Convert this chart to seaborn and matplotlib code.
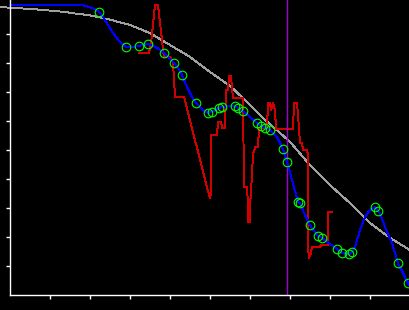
import matplotlib
matplotlib.use("Agg")
import matplotlib.pyplot as plt
import seaborn as sns

# ---- data ----
grey_x = [-2.5, 0.75, 5.5, 8.25, 11.25, 13.75, 17, 19.25, 21.75, 24.25, 30, 35, 40, 45,
          50, 55, 59.25, 63.25, 67.5, 70, 75, 80, 85, 90, 95, 100]
grey_y = [99.3, 99.0, 98.6, 98.3, 97.9, 97.6, 96.9, 96.6, 95.9, 95.2, 93.1, 90.3, 86.2, 82.1,
          76.9, 72.1, 66.6, 61.0, 55.9, 52.8, 44.8, 37.9, 31.7, 24.8, 19.7, 15.5]

red_x = [32.25, 34.75, 35.25, 36.25, 37, 38, 38.25, 38.5, 40, 40.75, 41.25, 43.5, 49.75, 50,
         50.25, 50.25, 51.75, 52, 52.75, 53, 53.75, 54, 54.5, 54.75, 55.25, 55.5, 55.75, 58.25,
         58.5, 59.25, 59.5, 59.5, 60, 60, 60.25, 60.75, 61.25, 62, 62.25, 64.25, 64.5, 65,
         65.25, 65.75, 66.25, 66.5, 70.75, 71, 71.75, 72, 72.5, 73, 73.25, 74.25, 74.5, 74.5,
         74.75, 75.25, 75.5, 77.5, 77.75, 79.5, 79.5, 80.5]
red_y = [83.4, 83.4, 86.6, 100.0, 100.0, 87.9, 84.5, 82.1, 82.1, 80.3, 68.3, 68.3, 34.5, 33.4,
         35.2, 55.2, 55.2, 59.7, 59.7, 57.6, 57.6, 70.7, 70.7, 75.5, 75.5, 71.4, 67.9, 67.9,
         37.2, 37.2, 31.0, 25.2, 25.2, 31.0, 35.5, 48.3, 51.0, 51.0, 57.6, 57.6, 66.2, 66.2,
         63.8, 66.2, 63.8, 57.2, 57.2, 66.2, 66.2, 62.1, 52.4, 52.4, 50.0, 50.0, 48.3, 16.6,
         12.8, 14.5, 16.6, 16.6, 17.2, 17.2, 28.6, 28.6]

blue_x = [0, 17.5, 19, 20.5, 21.5, 22.25, 23.25, 24.5, 25.75, 27.5, 29, 30.5, 32.25, 34.5,
          35.75, 37.25, 38.5, 41, 42, 43, 44.25, 45.5, 46.5, 48.25, 49.5, 50.5, 52.25, 53, 55,
          56.25, 57, 58.25, 60, 61.75, 62.75, 63.75, 65, 66.75, 68.25, 69.25, 70.5, 72, 72.5,
          73.75, 75, 77, 78, 80, 81.75, 83, 84.75, 85.5, 86.25, 87.5, 88.75, 90, 91.25, 92,
          92.5, 93.75, 95.5, 97, 98.75, 100]
blue_y = [100.0, 100.0, 99.7, 99.0, 98.3, 97.6, 95.9, 93.1, 90.3, 87.2, 85.5, 85.5, 85.9, 86.6,
          85.9, 84.8, 83.4, 80.0, 78.3, 75.9, 71.7, 68.3, 66.2, 63.8, 62.8, 63.1, 64.5, 64.8, 65.2,
          65.2, 64.5, 63.4, 61.4, 59.3, 58.3, 57.6, 56.9, 54.5, 50.3, 45.9, 39.7, 32.1, 31.7,
          27.6, 24.1, 20.3, 19.7, 17.6, 15.9, 14.5, 14.1, 14.8, 16.6, 22.4, 26.9, 29.3, 30.3, 29.0,
          28.3, 23.4, 17.9, 11.0, 6.2, 2.8]

pt_x = [22.25, 29, 32.25, 34.5, 38.5, 41, 43, 46.5, 49.5, 50.5, 52.25, 53, 56.25, 57, 58.25,
        61.75, 62.75, 63.75, 65, 68.25, 69.25, 72, 72.5, 75, 77, 78, 81.75, 83, 84.75, 85.5,
        91.25, 92, 97, 99.5]
pt_y = [97.6, 85.5, 85.9, 86.6, 83.4, 80.0, 75.9, 66.2, 62.8, 63.1, 64.5, 64.8, 65.2, 64.5, 63.4,
        59.3, 58.3, 57.6, 56.9, 50.3, 45.9, 32.1, 31.7, 24.1, 20.3, 19.7, 15.9, 14.5, 14.1, 14.8,
        30.3, 29.0, 11.0, 4.1]

cursor_x = 69.375
x_ticks = [10, 20, 30, 40, 50, 60, 70, 80, 90]
y_ticks = [10, 20, 30, 40, 50, 60, 70, 80, 90]

# ---- figure ----
sns.set_style("dark")
fig = plt.figure(figsize=(4.1, 3.1), dpi=100, facecolor="black")
ax = fig.add_axes([0, 0, 1, 1])
ax.set_facecolor("black")
ax.grid(False)

x_lo, x_hi = -2.5, 100
y_lo, y_hi = -5.17, 101.72
ax.set_xlim(x_lo, x_hi)
ax.set_ylim(y_lo, y_hi)

LW = 0.7  # one pixel at 100 dpi
sns.lineplot(x=grey_x, y=grey_y, sort=False, estimator=None, color="#a0a0a0", lw=LW,
             antialiased=False, ax=ax)
sns.lineplot(x=red_x, y=red_y, sort=False, estimator=None, color="#d00000", lw=LW,
             antialiased=False, ax=ax)
sns.lineplot(x=[cursor_x, cursor_x], y=[0, y_hi], sort=False, estimator=None,
             color="#a000d0", lw=1.0, antialiased=True, ax=ax)
sns.lineplot(x=blue_x, y=blue_y, sort=False, estimator=None, color="#0000ff", lw=LW,
             antialiased=False, ax=ax)
sns.lineplot(x=pt_x, y=pt_y, sort=False, estimator=None, linestyle="none", marker="o",
             markersize=6.2, markerfacecolor="none", markeredgecolor="#00ff00",
             markeredgewidth=0.8, ax=ax)

for s in ["top", "right"]:
    ax.spines[s].set_visible(False)
ax.spines["left"].set_position(("data", 0))
ax.spines["bottom"].set_position(("data", 0))
ax.spines["left"].set_bounds(0, y_hi)
ax.spines["bottom"].set_bounds(0, x_hi)
for s in ["left", "bottom"]:
    ax.spines[s].set_color("white")
    ax.spines[s].set_linewidth(1.0)

ax.set_xticks(x_ticks)
ax.set_yticks(y_ticks)
ax.tick_params(axis="both", which="major", bottom=True, left=True, direction="out",
               length=3, width=1.0, color="white", labelleft=False, labelbottom=False)
ax.set_xlabel("")
ax.set_ylabel("")

fig.savefig("out.png", dpi=100, facecolor="black")
